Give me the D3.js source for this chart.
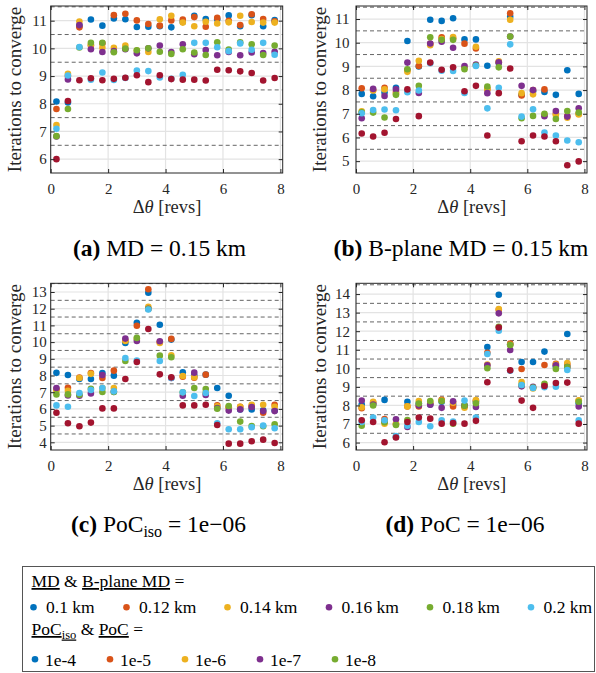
<!DOCTYPE html>
<html>
<head>
<meta charset="utf-8">
<script src="https://cdn.jsdelivr.net/npm/d3@7"></script>
<style>
  html, body { margin: 0; padding: 0; background: #fff; }
</style>
</head>
<body>
<svg id="fig" width="596" height="673" font-family="Liberation Serif"></svg>
<script>
const FONT = "Liberation Serif";

// Sweep of angular separation (revolutions)
const dTheta = [0.2, 0.6, 1.0, 1.4, 1.8, 2.2, 2.6, 3.0, 3.4, 3.8, 4.2, 4.6, 5.0, 5.4, 5.8, 6.2, 6.6, 7.0, 7.4, 7.8];

// MATLAB default colour order
const seriesColors = ["#0072BD", "#D95319", "#EDB120", "#7E2F8E", "#77AC30", "#4DBEEE", "#A2142F"];

// (a) MD = 0.15 km — one row per series, in colour order
const panelA = [
  [8.08, 8.05, 10.82, 11.04, 10.82, 11.08, 11.05, 10.77, 10.78, 10.80, 10.76, 10.95, 11.18, 11.06, 11.05, 11.19, 10.80, 11.20, 10.80, 11.02],
  [7.81, 9.00, 10.76, 10.10, 10.18, 11.20, 11.25, 11.01, 10.88, 10.82, 11.01, 11.04, 11.13, 10.78, 11.10, 11.00, 10.84, 11.23, 11.06, 10.98],
  [7.23, 9.08, 10.97, 10.13, 10.02, 10.02, 10.10, 9.92, 9.87, 11.05, 11.18, 10.93, 10.80, 10.96, 10.90, 10.94, 11.18, 10.95, 10.93, 10.93],
  [6.82, 8.88, 10.84, 9.97, 9.87, 9.90, 9.97, 9.82, 10.00, 10.10, 9.87, 10.15, 9.79, 9.94, 9.75, 9.87, 9.75, 9.85, 9.83, 9.88],
  [6.83, 7.81, 10.03, 10.20, 10.20, 9.86, 9.99, 9.93, 10.00, 9.88, 9.80, 9.97, 9.85, 9.76, 10.22, 9.96, 10.22, 10.15, 9.76, 10.10],
  [7.10, 9.02, 10.05, 8.87, 9.13, 8.86, 8.93, 9.20, 9.18, 8.95, 8.90, 9.05, 10.20, 10.20, 10.04, 9.90, 10.18, 9.95, 10.20, 9.77],
  [6.00, 8.10, 8.85, 8.92, 8.85, 8.90, 8.94, 9.03, 8.78, 9.03, 8.89, 8.87, 8.87, 8.84, 9.23, 9.21, 9.17, 9.11, 8.84, 8.93]
];

// (b) B-plane MD = 0.15 km
const panelB = [
  [7.84, 7.74, 7.90, 8.10, 10.07, 9.00, 10.97, 10.92, 11.03, 10.14, 10.14, 9.03, 9.15, 11.10, 7.80, 7.95, 7.92, 7.80, 8.84, 7.84],
  [8.08, 8.00, 8.10, 7.92, 8.85, 9.02, 9.95, 10.23, 10.19, 9.96, 9.76, 8.05, 9.18, 11.24, 7.77, 8.00, 8.03, 7.00, 6.90, 7.00],
  [7.10, 7.98, 8.03, 7.85, 8.77, 9.24, 9.89, 10.16, 10.24, 8.95, 9.83, 8.04, 9.22, 10.97, 7.87, 7.82, 6.95, 6.95, 6.83, 6.97],
  [6.81, 8.05, 7.75, 8.03, 9.16, 7.88, 9.97, 10.04, 9.79, 9.02, 9.08, 7.87, 9.17, 10.26, 8.18, 8.00, 6.90, 7.12, 6.88, 7.23],
  [7.06, 7.05, 6.84, 7.80, 8.88, 8.18, 10.23, 10.12, 10.12, 8.88, 9.04, 8.15, 8.96, 10.26, 6.81, 6.91, 7.00, 6.78, 7.12, 7.05],
  [7.02, 7.16, 7.18, 7.15, 7.91, 7.98, 9.13, 8.82, 8.81, 7.88, 9.02, 7.23, 8.10, 9.93, 6.88, 7.19, 6.21, 6.08, 5.87, 5.80],
  [6.17, 6.04, 6.20, 6.78, 8.03, 6.90, 9.16, 8.86, 8.96, 7.95, 8.18, 6.08, 7.87, 8.91, 5.84, 6.08, 6.04, 5.84, 4.83, 4.99]
];

// (c) PoC_iso = 1e-06
const panelC = [
  [8.16, 8.03, 7.79, 7.79, 8.15, 7.99, 9.95, 11.16, 12.96, 11.04, 10.15, 8.19, 8.00, 8.05, 7.25, 6.79, 5.97, 5.97, 5.91, 5.90],
  [7.17, 7.27, 7.87, 8.15, 7.85, 8.29, 10.10, 10.98, 13.16, 10.00, 10.19, 7.93, 7.87, 8.05, 6.21, 6.10, 6.13, 6.15, 5.77, 6.25],
  [7.10, 7.09, 7.85, 8.10, 7.25, 7.25, 10.07, 10.20, 12.12, 9.95, 9.21, 7.97, 7.90, 6.95, 6.15, 6.10, 6.13, 6.25, 6.25, 6.13],
  [7.25, 6.81, 6.79, 6.93, 8.03, 7.02, 10.21, 10.07, 12.00, 10.05, 7.85, 6.79, 8.17, 6.83, 6.05, 5.90, 5.97, 6.11, 5.87, 5.87],
  [6.87, 6.87, 6.85, 7.21, 7.01, 7.01, 8.87, 10.25, 11.98, 9.19, 9.09, 7.00, 7.25, 7.19, 6.01, 6.17, 5.24, 4.98, 4.96, 5.08],
  [6.21, 6.13, 6.95, 7.13, 7.25, 7.05, 9.05, 8.89, 11.95, 8.87, 7.85, 6.99, 6.77, 6.95, 5.14, 4.78, 4.78, 4.90, 5.00, 4.84],
  [5.77, 5.14, 4.96, 5.18, 6.03, 6.03, 7.79, 8.81, 10.78, 8.07, 7.89, 6.21, 6.21, 6.25, 5.04, 3.92, 3.92, 4.06, 4.16, 3.96]
];

// (d) PoC = 1e-06
const panelD = [
  [8.05, 8.10, 8.30, 6.30, 8.20, 8.12, 8.05, 8.20, 8.05, 8.00, 8.20, 11.15, 13.96, 11.30, 10.34, 10.34, 10.90, 10.10, 11.85, 8.12],
  [7.85, 8.15, 7.27, 7.00, 7.95, 7.95, 8.10, 8.31, 7.94, 7.95, 8.25, 10.84, 13.15, 11.33, 9.96, 8.95, 10.18, 10.25, 10.20, 8.25],
  [7.90, 8.20, 7.02, 7.00, 7.95, 8.24, 8.20, 8.26, 8.15, 7.88, 8.29, 10.20, 13.19, 11.27, 9.26, 8.91, 9.10, 10.20, 10.29, 8.28],
  [8.26, 8.05, 7.13, 7.26, 6.84, 8.00, 8.04, 7.87, 8.22, 8.00, 7.92, 10.16, 12.96, 10.99, 9.03, 9.00, 9.07, 10.16, 10.07, 7.94],
  [6.91, 8.00, 7.10, 6.95, 7.22, 8.10, 8.24, 8.24, 7.02, 7.99, 8.12, 10.00, 12.24, 11.26, 9.10, 8.97, 9.16, 9.96, 10.07, 8.20],
  [7.11, 7.35, 7.20, 6.35, 6.91, 7.11, 6.88, 7.20, 7.13, 8.26, 7.35, 10.77, 12.03, 9.87, 9.10, 8.94, 8.98, 9.01, 9.91, 7.20],
  [7.20, 7.11, 6.02, 6.27, 7.11, 7.35, 7.29, 7.02, 7.05, 7.02, 7.17, 9.25, 12.20, 9.89, 8.26, 7.87, 9.05, 9.21, 9.23, 7.02]
];

const xTicks = [0, 2, 4, 6, 8];
const yTicksA = [6, 7, 8, 9, 10, 11];
const yTicksB = [5, 6, 7, 8, 9, 10, 11];
const yTicksC = [4, 5, 6, 7, 8, 9, 10, 11, 12, 13];
const yTicksD = [6, 7, 8, 9, 10, 11, 12, 13, 14];

const mdLabels = ["0.1 km", "0.12 km", "0.14 km", "0.16 km", "0.18 km", "0.2 km"];
const pocLabels = ["1e-4", "1e-5", "1e-6", "1e-7", "1e-8"];

const svg = d3.select("#fig");

function txt(sel) {
  return sel.append("text").attr("font-family", FONT);
}

function drawPanel(cfg) {
  const { left, right, top, bottom, yDomain, yTicks, xDomain, data, yPad } = cfg;
  const x = d3.scaleLinear().domain(xDomain).range([left, right]);
  const y = d3.scaleLinear().domain(yDomain).range([bottom, top]);
  const g = svg.append("g");

  // integer grid (light) along both axes
  g.selectAll(".gy").data(yTicks).enter().append("line")
    .attr("x1", left).attr("x2", right)
    .attr("y1", d => y(d)).attr("y2", d => y(d))
    .attr("stroke", "#e3e3e3").attr("stroke-width", 1.2);
  g.selectAll(".gx").data(xTicks).enter().append("line")
    .attr("y1", top).attr("y2", bottom)
    .attr("x1", d => x(d)).attr("x2", d => x(d))
    .attr("stroke", "#e3e3e3").attr("stroke-width", 1.2);

  // dashed half-integer boundaries
  const halves = d3.range(Math.ceil(yDomain[0] - 0.5) + 0.5, yDomain[1], 1)
    .filter(v => v > yDomain[0] && v < yDomain[1]);
  g.selectAll(".hd").data(halves).enter().append("line")
    .attr("x1", left).attr("x2", right)
    .attr("y1", d => y(d)).attr("y2", d => y(d))
    .attr("stroke", "#666").attr("stroke-width", 1)
    .attr("stroke-dasharray", "4,3");

  // series points
  data.forEach((vals, si) => {
    g.append("g").selectAll("circle").data(vals).enter().append("circle")
      .attr("cx", (d, i) => x(dTheta[i]))
      .attr("cy", d => y(d))
      .attr("r", 3.3)
      .attr("fill", seriesColors[si]);
  });

  // axes
  const ax = d3.axisBottom(x).tickValues(xTicks).tickSize(-4).tickPadding(10).tickFormat(d3.format("d"));
  const axT = d3.axisTop(x).tickValues(xTicks).tickSize(-4).tickFormat("");
  const ay = d3.axisLeft(y).tickValues(yTicks).tickSize(-4).tickPadding(yPad).tickFormat(d3.format("d"));
  const ayR = d3.axisRight(y).tickValues(yTicks).tickSize(-4).tickFormat("");
  const styleAxis = s => {
    s.attr("font-family", FONT);
    s.select(".domain").remove();
    s.selectAll("line").attr("stroke", "#262626");
    s.selectAll("text").attr("font-size", 15).attr("fill", "#262626")
      .attr("font-family", FONT);
  };
  g.append("g").attr("transform", `translate(0,${bottom})`).call(ax).call(styleAxis);
  g.append("g").attr("transform", `translate(0,${top})`).call(axT).call(styleAxis);
  g.append("g").attr("transform", `translate(${left},0)`).call(ay).call(styleAxis);
  g.append("g").attr("transform", `translate(${right},0)`).call(ayR).call(styleAxis);

  g.append("rect").attr("x", left).attr("y", top)
    .attr("width", right - left).attr("height", bottom - top)
    .attr("fill", "none").attr("stroke", "#262626").attr("stroke-width", 1);

  // axis labels
  const xl = txt(g).attr("x", (x(0) + x(8)) / 2 + 1.5).attr("y", bottom + 40)
    .attr("text-anchor", "middle").attr("font-size", 18.5).attr("fill", "#262626");
  xl.append("tspan").text("Δ");
  xl.append("tspan").attr("font-style", "italic").text("θ");
  xl.append("tspan").text(" [revs]");

  txt(g)
    .attr("transform", `translate(${left - 30},${(top + bottom) / 2}) rotate(-90)`)
    .attr("text-anchor", "middle").attr("font-size", 19).attr("fill", "#262626")
    .text("Iterations to converge");
}

drawPanel({ left: 50.7, right: 282.7, top: 6, bottom: 173, xDomain: [0, 8.08], yDomain: [5.5, 11.53], yTicks: yTicksA, data: panelA, yPad: 4 });
drawPanel({ left: 356, right: 587, top: 6, bottom: 173, xDomain: [0, 8.09], yDomain: [4.5, 11.55], yTicks: yTicksB, data: panelB, yPad: 6.5 });
drawPanel({ left: 50.7, right: 282.7, top: 283.3, bottom: 450, xDomain: [0, 8.08], yDomain: [3.54, 13.52], yTicks: yTicksC, data: panelC, yPad: 4 });
drawPanel({ left: 356, right: 587, top: 283.3, bottom: 450, xDomain: [0, 8.09], yDomain: [5.6, 14.58], yTicks: yTicksD, data: panelD, yPad: 6 });

// sub-figure captions
function caption(cx, cy, tag, parts) {
  const t = txt(svg).attr("x", cx).attr("y", cy)
    .attr("text-anchor", "middle").attr("font-size", 23.5).attr("fill", "#000");
  t.append("tspan").attr("font-weight", "bold").text(tag);
  parts.forEach(p => {
    const s = t.append("tspan").text(p.text);
    if (p.sub) s.attr("font-size", 16).attr("dy", 5);
    if (p.after) s.attr("dy", -5);
  });
}
caption(159.5, 256, "(a)", [{ text: " MD = 0.15 km" }]);
caption(461, 256, "(b)", [{ text: " B-plane MD = 0.15 km" }]);
caption(158.5, 532, "(c)", [{ text: " PoC" }, { text: "iso", sub: true }, { text: " = 1e−06", after: true }]);
caption(465, 532, "(d)", [{ text: " PoC = 1e−06" }]);

// legend box
const lg = svg.append("g");
lg.append("rect").attr("x", 22.5).attr("y", 566.5).attr("width", 572).attr("height", 105)
  .attr("fill", "#fff").attr("stroke", "#555").attr("stroke-width", 1);

const LFS = 17.5;
const h1 = txt(lg).attr("x", 31.5).attr("y", 587).attr("font-size", LFS).attr("fill", "#000");
h1.append("tspan").attr("text-decoration", "underline").text("MD");
h1.append("tspan").text(" & ");
h1.append("tspan").attr("text-decoration", "underline").text("B-plane MD");
h1.append("tspan").text(" =");

const mdX = [33.5, 126.5, 227.5, 329, 430, 531];
mdLabels.forEach((lab, i) => {
  lg.append("circle").attr("cx", mdX[i]).attr("cy", 607.3).attr("r", 3.3).attr("fill", seriesColors[i]);
  txt(lg).attr("x", mdX[i] + 12.5).attr("y", 613.3).attr("font-size", LFS).attr("fill", "#000").text(lab);
});

const h2 = txt(lg).attr("x", 31.5).attr("y", 635).attr("font-size", LFS).attr("fill", "#000");
h2.append("tspan").attr("text-decoration", "underline").text("PoC");
h2.append("tspan").attr("text-decoration", "underline").attr("font-size", 12.5).attr("dy", 3.5).text("iso");
h2.append("tspan").attr("dy", -3.5).text(" & ");
h2.append("tspan").attr("text-decoration", "underline").text("PoC");
h2.append("tspan").text(" =");

const pocX = [35, 110, 185, 260, 335];
pocLabels.forEach((lab, i) => {
  lg.append("circle").attr("cx", pocX[i]).attr("cy", 659.3).attr("r", 3.3).attr("fill", seriesColors[i]);
  txt(lg).attr("x", pocX[i] + 10).attr("y", 666).attr("font-size", LFS).attr("fill", "#000").text(lab);
});
</script>
</body>
</html>
